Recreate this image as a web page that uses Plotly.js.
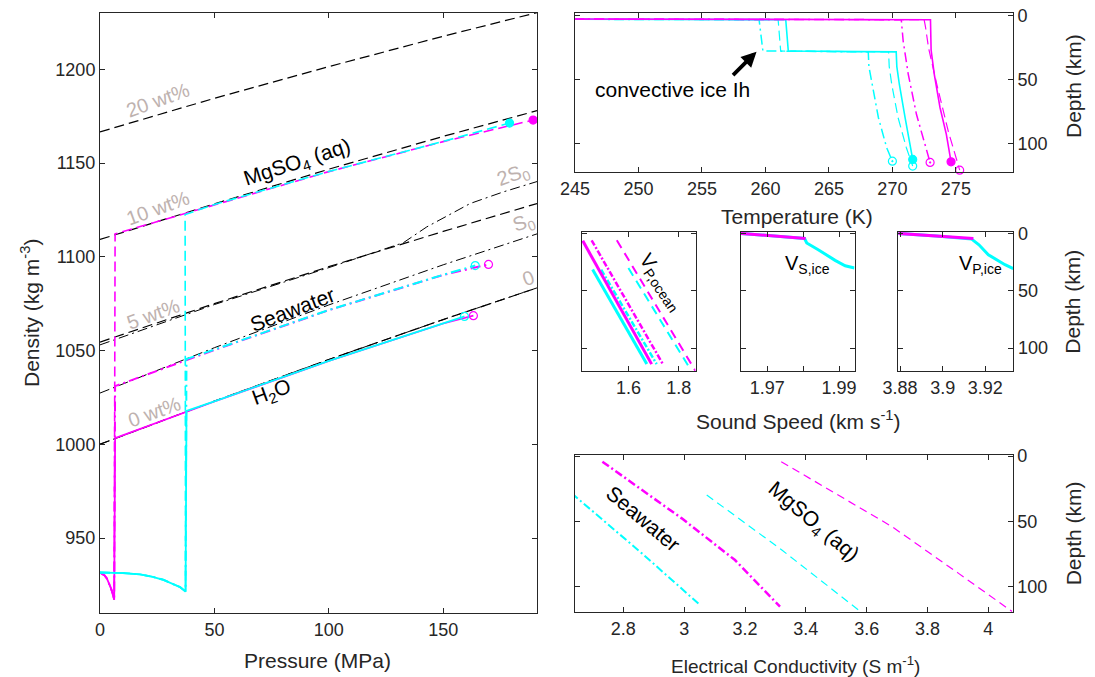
<!DOCTYPE html>
<html>
<head>
<meta charset="utf-8">
<script src="https://cdn.plot.ly/plotly-3.0.1.min.js"></script>
<style>
  html, body { margin: 0; padding: 0; background: #ffffff; }
  #plot { width: 1095px; height: 677px; }
</style>
</head>
<body>
<div id="plot"></div>
<script>
// ---------- Density vs pressure: reference curves ----------
const P_ref      = [0, 50, 100, 150, 191];
const rho_0wt    = [1000.0, 1023.0, 1045.2, 1066.5, 1083.4];
const rho_5wt    = [1054.5, 1075.0, 1094.7, 1113.5, 1128.4];
const rho_10wt   = [1109.2, 1128.2, 1146.7, 1164.2, 1177.9];
const rho_20wt   = [1166.6, 1184.5, 1201.4, 1217.6, 1230.2];
const rho_S0     = [1027.3, 1051.5, 1074.3, 1095.7, 1112.2];
const P_2S0      = [0, 50, 100, 132.6, 142.8, 161.8, 176.3, 191];
const rho_2S0    = [1053.0, 1074.5, 1094.2, 1107.5, 1115.9, 1128.4, 1134.6, 1140.1];

// ice shells (density vs pressure)
const P_iceThin   = [0, 1, 2, 3, 4, 4.7, 5.5, 6.2];
const rho_iceThin = [931.6, 931.0, 930.0, 928.4, 925.9, 923.5, 920.5, 917.1];
const P_iceThick   = [0, 10, 17.5, 23, 27.7, 32, 35, 37.4];
const rho_iceThick = [931.6, 931.3, 930.6, 929.3, 927.7, 925.6, 923.8, 921.5];

// oceans (density vs pressure)
const P_h2o_thin   = [6.6, 50, 100, 150, 163.2];
const rho_h2o_thin = [1003.3, 1022.8, 1044.4, 1064.4, 1068.6];
const P_h2o_thick   = [37.8, 50, 100, 150, 159.3];
const rho_h2o_thick = [1017.8, 1022.9, 1044.5, 1064.5, 1068.2];
const P_sw_thin   = [6.6, 50, 100, 150, 169.8];
const rho_sw_thin = [1031.0, 1050.3, 1071.5, 1090.3, 1095.9];
const P_sw_thick   = [37.8, 50, 100, 150, 164];
const rho_sw_thick = [1045.5, 1050.5, 1071.6, 1090.4, 1095.3];
const P_mg_thin   = [6.6, 50, 100, 150, 189.3];
const rho_mg_thin = [1112.2, 1127.8, 1145.4, 1161.4, 1172.9];
const P_mg_thick   = [37.2, 50, 100, 150, 179];
const rho_mg_thick = [1122.5, 1127.9, 1145.5, 1161.5, 1171.3];

// ---------- Temperature vs depth ----------
const T_h2o_thin = [100, 273.0, 273.05, 273.3, 273.75, 274.25, 274.62];
const z_h2o_thin = [0, 3.3, 27, 46, 72, 93, 114.5];
const T_mg_thin  = [100, 272.5, 272.6, 272.85, 273.5, 274.4, 275.3];
const z_mg_thin  = [0, 3.3, 8.5, 25.4, 54, 90.5, 121];
const T_sw_thin  = [100, 270.7, 270.85, 271.25, 271.9, 272.55, 272.97];
const z_sw_thin  = [0, 3.3, 20, 46, 77.5, 101, 115];
const T_h2o_thick = [100, 261.6, 261.8, 270.3, 270.35, 270.55, 271.0, 271.4, 271.6];
const z_h2o_thick = [0, 3.3, 27.8, 28.5, 40, 54, 80, 101, 112.6];
const T_mg_thick  = [100, 261.0, 261.2, 269.7, 269.75, 269.95, 270.45, 271.1, 271.6];
const z_mg_thick  = [0, 3.3, 27.8, 28.5, 40, 54, 80, 103.5, 117.8];
const T_sw_thick  = [100, 259.5, 259.8, 268.1, 268.15, 268.4, 268.9, 269.55, 270.0];
const z_sw_thick  = [0, 3.3, 27.8, 28.5, 40, 54, 80, 103.5, 114];

// ---------- Sound speeds ----------
const vp_h2o_thin = [1.419, 1.692];  const zv_h2o_thin = [6.5, 114];
const vp_sw_thin  = [1.454, 1.738];  const zv_sw_thin  = [6.0, 114.5];
const vp_mg_thin  = [1.554, 1.866];  const zv_mg_thin  = [6.0, 120];
const vp_h2o_thick = [1.458, 1.673]; const zv_h2o_thick = [31.6, 114];
const vp_sw_thick  = [1.492, 1.712]; const zv_sw_thick  = [31.6, 114];
const vp_mg_thick  = [1.600, 1.843]; const zv_mg_thick  = [30.2, 117.5];

const vs_ice_thin  = [1.9627, 1.9720, 1.9807];
const zs_ice_thin  = [0, 2.2, 4.5];
const vs_ice_thick = [1.9627, 1.9720, 1.9804, 1.9810, 1.9842, 1.9889, 1.9917, 1.9943];
const zs_ice_thick = [0, 2.2, 4.5, 8.4, 14.2, 23.5, 28.2, 30.2];

const vpi_ice_thin  = [3.8792, 3.8970, 3.9144];
const zpi_ice_thin  = [0, 2.2, 4.5];
const vpi_ice_thick = [3.8792, 3.8970, 3.9136, 3.9170, 3.9214, 3.9292, 3.9331];
const zpi_ice_thick = [0, 2.2, 5.0, 10, 18.6, 27.3, 30.8];

// ---------- Electrical conductivity ----------
const sig_sw_thin = [2.731, 2.992, 3.167, 3.315]; const zc_sw_thin = [4.3, 47.7, 79.6, 115.3];
const sig_sw_thick = [2.630, 2.861, 3.052];       const zc_sw_thick = [28.5, 74.5, 114];
const sig_mg_thick = [3.074, 3.321, 3.573];       const zc_mg_thick = [29.8, 71.9, 117.8];
const sig_mg_thin = [3.319, 3.683, 3.902, 4.078]; const zc_mg_thin = [4.3, 54, 89.8, 119];

// ---------- styling ----------
const MAG = '#ff00ff', CYA = '#00ffff', INK = '#262626', BLK = '#000000';
const TAG = 'rgb(190,178,175)';
const FONT = 'Liberation Sans, Arial, Helvetica, sans-serif';
const DASH = '10px,5px';
const DASHDOT = '10px,4px,2px,4px';

function line(x, y, xa, ya, color, dash, width) {
  return { type: 'scatter', mode: 'lines', x: x, y: y, xaxis: xa, yaxis: ya,
           line: { color: color, dash: dash, width: width },
           hoverinfo: 'skip', showlegend: false, cliponaxis: true };
}
function endMark(x, y, xa, ya, color, symbol, size) {
  return { type: 'scatter', mode: 'markers',
           x: [x[x.length - 1]], y: [y[y.length - 1]], xaxis: xa, yaxis: ya,
           marker: { color: color, symbol: symbol, size: size, line: { color: color, width: 1.2 } },
           hoverinfo: 'skip', showlegend: false, cliponaxis: false };
}
const cat = (a, b) => a.concat(b);

const traces = [
  // reference curves
  line(P_ref, rho_20wt, 'x', 'y', BLK, DASH, 1.2),
  line(P_ref, rho_10wt, 'x', 'y', BLK, DASH, 1.2),
  line(P_ref, rho_5wt,  'x', 'y', BLK, DASH, 1.2),
  line(P_ref, rho_0wt,  'x', 'y', BLK, DASH, 1.2),
  line(P_2S0, rho_2S0,  'x', 'y', BLK, DASHDOT, 1),
  line(P_ref, rho_S0,   'x', 'y', BLK, DASHDOT, 1),
  line(P_ref, rho_0wt,  'x', 'y', BLK, DASHDOT, 1),
  // thin shell (magenta)
  line(cat(P_iceThin, P_mg_thin),  cat(rho_iceThin, rho_mg_thin),  'x', 'y', MAG, DASH, 1.6),
  line(cat(P_iceThin, P_sw_thin),  cat(rho_iceThin, rho_sw_thin),  'x', 'y', MAG, DASHDOT, 2),
  line(cat(P_iceThin, P_h2o_thin), cat(rho_iceThin, rho_h2o_thin), 'x', 'y', MAG, 'solid', 1.8),
  // thick shell (cyan)
  line(cat(P_iceThick, P_mg_thick),  cat(rho_iceThick, rho_mg_thick),  'x', 'y', CYA, DASH, 1.6),
  line(cat(P_iceThick, P_sw_thick),  cat(rho_iceThick, rho_sw_thick),  'x', 'y', CYA, DASHDOT, 2),
  line(cat(P_iceThick, P_h2o_thick), cat(rho_iceThick, rho_h2o_thick), 'x', 'y', CYA, 'solid', 1.8),
  endMark(P_mg_thin, rho_mg_thin, 'x', 'y', MAG, 'circle', 8),
  endMark(P_mg_thick, rho_mg_thick, 'x', 'y', CYA, 'circle', 8),
  endMark(P_sw_thin, rho_sw_thin, 'x', 'y', MAG, 'circle-open', 8),
  endMark(P_sw_thick, rho_sw_thick, 'x', 'y', CYA, 'circle-open', 8),
  endMark(P_h2o_thin, rho_h2o_thin, 'x', 'y', MAG, 'circle-open', 8),
  endMark(P_h2o_thick, rho_h2o_thick, 'x', 'y', CYA, 'circle-open', 8),

  // temperature profiles
  line(T_sw_thick,  z_sw_thick,  'x2', 'y2', CYA, DASHDOT, 1.5),
  line(T_mg_thick,  z_mg_thick,  'x2', 'y2', CYA, DASH, 1.2),
  line(T_h2o_thick, z_h2o_thick, 'x2', 'y2', CYA, 'solid', 1.6),
  line(T_sw_thin,   z_sw_thin,   'x2', 'y2', MAG, DASHDOT, 1.5),
  line(T_mg_thin,   z_mg_thin,   'x2', 'y2', MAG, DASH, 1.2),
  line(T_h2o_thin,  z_h2o_thin,  'x2', 'y2', MAG, 'solid', 1.6),
  endMark(T_sw_thick,  z_sw_thick,  'x2', 'y2', CYA, 'circle-open-dot', 8),
  endMark(T_mg_thick,  z_mg_thick,  'x2', 'y2', CYA, 'circle-open', 8),
  endMark(T_h2o_thick, z_h2o_thick, 'x2', 'y2', CYA, 'circle', 8),
  endMark(T_sw_thin,   z_sw_thin,   'x2', 'y2', MAG, 'circle-open-dot', 8),
  endMark(T_mg_thin,   z_mg_thin,   'x2', 'y2', MAG, 'circle-open', 8),
  endMark(T_h2o_thin,  z_h2o_thin,  'x2', 'y2', MAG, 'circle', 8),

  // ocean P-wave speed
  line(vp_h2o_thick, zv_h2o_thick, 'x3', 'y3', CYA, 'solid', 3),
  line(vp_sw_thick,  zv_sw_thick,  'x3', 'y3', CYA, '6px,2px,2px,2px', 2.5),
  line(vp_mg_thick,  zv_mg_thick,  'x3', 'y3', CYA, '9px,6px', 2),
  line(vp_h2o_thin,  zv_h2o_thin,  'x3', 'y3', MAG, 'solid', 3),
  line(vp_sw_thin,   zv_sw_thin,   'x3', 'y3', MAG, '6px,2px,2px,2px', 2.5),
  line(vp_mg_thin,   zv_mg_thin,   'x3', 'y3', MAG, '9px,6px', 2),

  // ice S-wave and P-wave speed
  line(vs_ice_thick, zs_ice_thick, 'x4', 'y4', CYA, 'solid', 3),
  line(vs_ice_thin,  zs_ice_thin,  'x4', 'y4', MAG, 'solid', 3),
  line(vpi_ice_thick, zpi_ice_thick, 'x5', 'y5', CYA, 'solid', 3),
  line(vpi_ice_thin,  zpi_ice_thin,  'x5', 'y5', MAG, 'solid', 3),

  // conductivity
  line(sig_sw_thick, zc_sw_thick, 'x6', 'y6', CYA, '8px,3px,2px,3px', 2),
  line(sig_sw_thin,  zc_sw_thin,  'x6', 'y6', MAG, '8px,3px,2px,3px', 2.5),
  line(sig_mg_thick, zc_mg_thick, 'x6', 'y6', CYA, '8px,5px', 1.2),
  line(sig_mg_thin,  zc_mg_thin,  'x6', 'y6', MAG, '8px,5px', 1.2)
];

function ax(domain, range, extra) {
  return Object.assign({
    domain: domain, range: range, autorange: false,
    showline: true, mirror: 'ticks', linecolor: INK, linewidth: 1,
    ticks: 'inside', ticklen: 5, tickwidth: 1, tickcolor: INK,
    showgrid: false, zeroline: false, fixedrange: true,
    tickfont: { family: FONT, size: 18, color: INK }
  }, extra || {});
}

const W = 1095, H = 677;
const dx = (a, b) => [a / W, b / W];
const dy = (top, bottom) => [1 - bottom / H, 1 - top / H];

const layout = {
  width: W, height: H,
  margin: { l: 0, r: 0, t: 0, b: 0 },
  paper_bgcolor: '#ffffff', plot_bgcolor: '#ffffff',
  showlegend: false,
  font: { family: FONT, color: INK },

  xaxis:  ax(dx(100, 537), [0, 191], { anchor: 'y', tickvals: [0, 50, 100, 150] }),
  yaxis:  ax(dy(13, 613), [910, 1230], { anchor: 'x', tickvals: [950, 1000, 1050, 1100, 1150, 1200] }),

  xaxis2: ax(dx(575, 1013), [245, 279.5], { anchor: 'y2', tickvals: [245, 250, 255, 260, 265, 270, 275] }),
  yaxis2: ax(dy(13.3, 172.3), [122.7, -1.7], { anchor: 'x2', side: 'right', tickvals: [0, 50, 100] }),

  xaxis3: ax(dx(581.5, 695.5), [1.414, 1.866], { anchor: 'y3', tickvals: [1.6, 1.8] }),
  yaxis3: ax(dy(232, 371), [120, -1.2], { anchor: 'x3', side: 'right', tickvals: [0, 50, 100], showticklabels: false }),

  xaxis4: ax(dx(741, 854.5), [1.9627, 1.9943], { anchor: 'y4', tickvals: [1.97, 1.98, 1.99], ticktext: ['1.97', '', '1.99'] }),
  yaxis4: ax(dy(232, 371), [120, -1.2], { anchor: 'x4', side: 'right', tickvals: [0, 50, 100], showticklabels: false }),

  xaxis5: ax(dx(898.3, 1013.3), [3.8792, 3.9331], { anchor: 'y5', tickvals: [3.88, 3.9, 3.92], ticktext: ['3.88', '3.9', '3.92'] }),
  yaxis5: ax(dy(232, 371), [120, -1.2], { anchor: 'x5', side: 'right', tickvals: [0, 50, 100] }),

  xaxis6: ax(dx(575, 1012.7), [2.641, 4.08], { anchor: 'y6', tickvals: [2.8, 3, 3.2, 3.4, 3.6, 3.8, 4], ticktext: ['2.8', '3', '3.2', '3.4', '3.6', '3.8', '4'] }),
  yaxis6: ax(dy(455, 612.3), [119.6, -0.8], { anchor: 'x6', side: 'right', tickvals: [0, 50, 100] }),

  annotations: []
};

function note(text, x, y, xref, yref, opts) {
  return Object.assign({ text: text, x: x, y: y, xref: xref, yref: yref,
    showarrow: false, xanchor: 'center', yanchor: 'middle',
    font: { family: FONT, size: 21, color: BLK } }, opts || {});
}
const grayTag = (text, x, y) =>
  note(text, x, y, 'x', 'y', { textangle: -20, font: { family: FONT, size: 20, color: TAG } });
const paperTitle = (text, px, py, angle, size) =>
  note(text, px / W, 1 - py / H, 'paper', 'paper',
       { textangle: angle || 0, font: { family: FONT, size: size || 21, color: INK } });

layout.annotations.push(
  // labels on the density panel
  grayTag('20 wt%', 25.3, 1183.6),
  grayTag('10 wt%', 25.3, 1126.0),
  grayTag('5 wt%',  23.3, 1069.5),
  grayTag('0 wt%',  23.6, 1017.4),
  grayTag('2S<sub>0</sub>', 180.6, 1143.6),
  grayTag('S<sub>0</sub>',  184.9, 1118.0),
  grayTag('0',              187.2, 1088.5),
  note('MgSO<sub>4</sub> (aq)', 86.2, 1149.8, 'x', 'y', { textangle: -18 }),
  note('Seawater', 84.0, 1072.1, 'x', 'y', { textangle: -21 }),
  note('H<sub>2</sub>O', 75.0, 1027.2, 'x', 'y', { textangle: -20 }),

  // temperature panel
  note('convective ice Ih', 252.66, 58.2, 'x2', 'y2'),
  { text: '', x: 259.3, y: 28.3, xref: 'x2', yref: 'y2', ax: -25, ay: 25,
    showarrow: true, arrowhead: 2, arrowsize: 0.8, arrowwidth: 3.8, arrowcolor: BLK, standoff: 0 },

  // sound speed panels
  note('V<sub>P,ocean</sub>', 1.729, 43.1, 'x3', 'y3', { textangle: 56, font: { family: FONT, size: 20, color: BLK } }),
  note('V<sub>S,ice</sub>', 1.9812, 27.3, 'x4', 'y4', { font: { family: FONT, size: 20, color: BLK } }),
  note('V<sub>P,ice</sub>', 3.9179, 27.3, 'x5', 'y5', { font: { family: FONT, size: 20, color: BLK } }),

  // conductivity panel
  note('Seawater', 2.8655, 47.7, 'x6', 'y6', { textangle: 40 }),
  note('MgSO<sub>4</sub> (aq)', 3.4244, 50.3, 'x6', 'y6', { textangle: 40 }),

  // axis titles
  paperTitle('Pressure (MPa)', 317, 660),
  paperTitle('Density (kg m<sup>-3</sup>)', 30, 313, -90),
  paperTitle('Temperature (K)', 797, 216.7),
  paperTitle('Depth (km)', 1073, 86, -90),
  paperTitle('Sound Speed (km s<sup>-1</sup>)', 798, 420),
  paperTitle('Depth (km)', 1073, 301.7, -90),
  paperTitle('Electrical Conductivity (S m<sup>-1</sup>)', 795, 665, 0, 19),
  paperTitle('Depth (km)', 1073, 533.3, -90)
);

Plotly.newPlot('plot', traces, layout, { displayModeBar: false, staticPlot: true });
</script>
</body>
</html>
